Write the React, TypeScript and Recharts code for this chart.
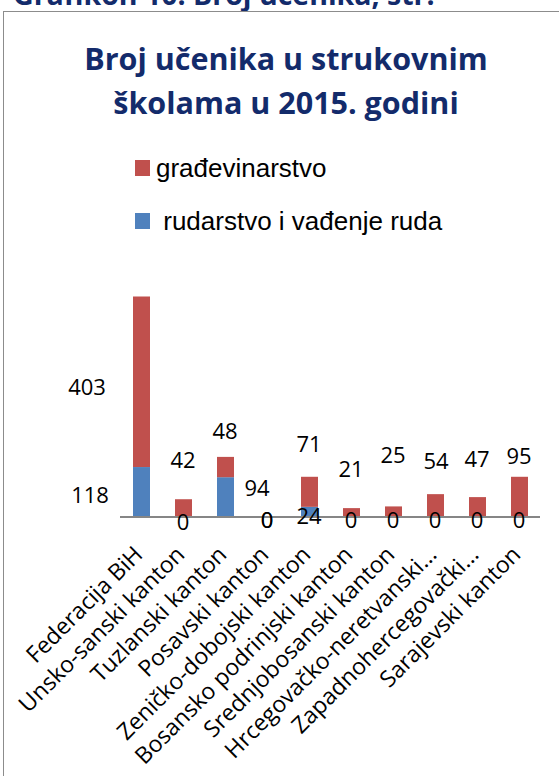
import { ComposedChart, Bar, Line, XAxis, YAxis, LabelList } from 'recharts'

const categories = [
  'Federacija BiH',
  'Unsko-sanski kanton',
  'Tuzlanski kanton',
  'Posavski kanton',
  'Zeničko-dobojski kanton',
  'Bosansko podrinjski kanton',
  'Srednjobosanski kanton',
  'Hrcegovačko-neretvanski...',
  'Zapadnohercegovački...',
  'Sarajevski kanton',
]

const rudarstvo = [118, 0, 94, 0, 24, 0, 0, 0, 0, 0]
const gradjevinarstvo = [403, 42, 48, 0, 71, 21, 25, 54, 47, 95]

const seriesNames = ['građevinarstvo', ' rudarstvo i vađenje ruda']

const data = categories.map((name, i) => ({
  name,
  rud: rudarstvo[i],
  gra: gradjevinarstvo[i],
  top: rudarstvo[i] + gradjevinarstvo[i],
}))

// label nudges [dx, dy] from the top centre of each segment (Excel moved some by hand)
const redNudge = [[-54, 90], [0, -40], [0, -27], [0, 2], [0, -34], [0, -40], [0, -52], [1, -34], [0, -39], [0, -22]]
const blueNudge = [[-51, 27], [0, 4], [32, 10], [0, 2], [0, 8], [0, 2], [0, 2], [0, 2], [0, 2], [0, 2]]

const RED = '#C0504D'
const BLUE = '#4F81BD'
const NAVY = '#132B6B'
const FONT = '"Open Sans", sans-serif'

function makeLabel(nudge: number[][]) {
  return (p: any) => {
    const [dx, dy] = nudge[p.index] || [0, 0]
    return (
      <text
        x={p.x + dx}
        y={p.y + dy}
        textAnchor="middle"
        dominantBaseline="central"
        fontFamily={FONT}
        fontSize={22}
        fill="#000"
      >
        {p.value}
      </text>
    )
  }
}

function Tick({ x, y, payload }: any) {
  const tx = x + 3
  const ty = y + 39
  return (
    <text
      x={tx}
      y={ty}
      transform={`rotate(-45, ${tx}, ${ty})`}
      textAnchor="end"
      fontFamily={FONT}
      fontSize={23}
      fill="#000"
    >
      {payload.value}
    </text>
  )
}

export default function App() {
  return (
    <div
      style={{
        position: 'absolute',
        left: 0,
        top: 0,
        width: 559,
        height: 776,
        overflow: 'hidden',
        background: '#fff',
      }}
    >
      <div
        style={{
          position: 'absolute',
          left: 13,
          top: -19,
          fontFamily: FONT,
          fontWeight: 700,
          fontSize: 28.5,
          lineHeight: '27px',
          color: NAVY,
          whiteSpace: 'nowrap',
        }}
      >
        Grafikon 10: Broj učenika, str.
      </div>
      <div
        style={{
          position: 'absolute',
          left: 3,
          top: 11,
          width: 620,
          height: 820,
          border: '1.5px solid #8c8c8c',
        }}
      />
      <div
        style={{
          position: 'absolute',
          left: 0,
          top: 36,
          width: 572,
          textAlign: 'center',
          fontFamily: FONT,
          fontWeight: 700,
          fontSize: 30.5,
          lineHeight: '44px',
          color: NAVY,
          whiteSpace: 'nowrap',
        }}
      >
        Broj učenika u strukovnim
        <br />
        školama u 2015. godini
      </div>
      <div
        style={{
          position: 'absolute',
          left: 135,
          top: 152,
          fontFamily: '"Liberation Sans", Arial, sans-serif',
          fontSize: 26,
        }}
      >
        {seriesNames.map((s, i) => (
          <div key={s} style={{ display: 'flex', alignItems: 'center', height: 32, marginBottom: 21 }}>
            <span
              style={{
                display: 'inline-block',
                width: 15,
                height: 16,
                background: i === 0 ? RED : BLUE,
                marginRight: 6,
              }}
            />
            <span style={{ whiteSpace: 'pre' }}>{s}</span>
          </div>
        ))}
      </div>
      <div style={{ position: 'absolute', left: 0, top: 0 }}>
        <ComposedChart
          width={559}
          height={776}
          data={data}
          margin={{ top: 263, right: 19, left: 120, bottom: 59 }}
          barCategoryGap={0}
        >
          <XAxis
            dataKey="name"
            height={200}
            interval={0}
            tickLine={false}
            tickSize={0}
            tickMargin={0}
            axisLine={{ stroke: '#868686', strokeWidth: 2 }}
            tick={<Tick />}
          />
          <YAxis hide domain={[0, 600]} />
          <Bar dataKey="rud" stackId="a" fill={BLUE} barSize={17} isAnimationActive={false} />
          <Bar dataKey="gra" stackId="a" fill={RED} barSize={17} isAnimationActive={false} />
          {/* invisible carriers so that zero values get their labels too */}
          <Line dataKey="rud" stroke="none" dot={false} activeDot={false} isAnimationActive={false}>
            <LabelList dataKey="rud" content={makeLabel(blueNudge)} />
          </Line>
          <Line dataKey="top" stroke="none" dot={false} activeDot={false} isAnimationActive={false}>
            <LabelList dataKey="gra" content={makeLabel(redNudge)} />
          </Line>
        </ComposedChart>
      </div>
    </div>
  )
}
